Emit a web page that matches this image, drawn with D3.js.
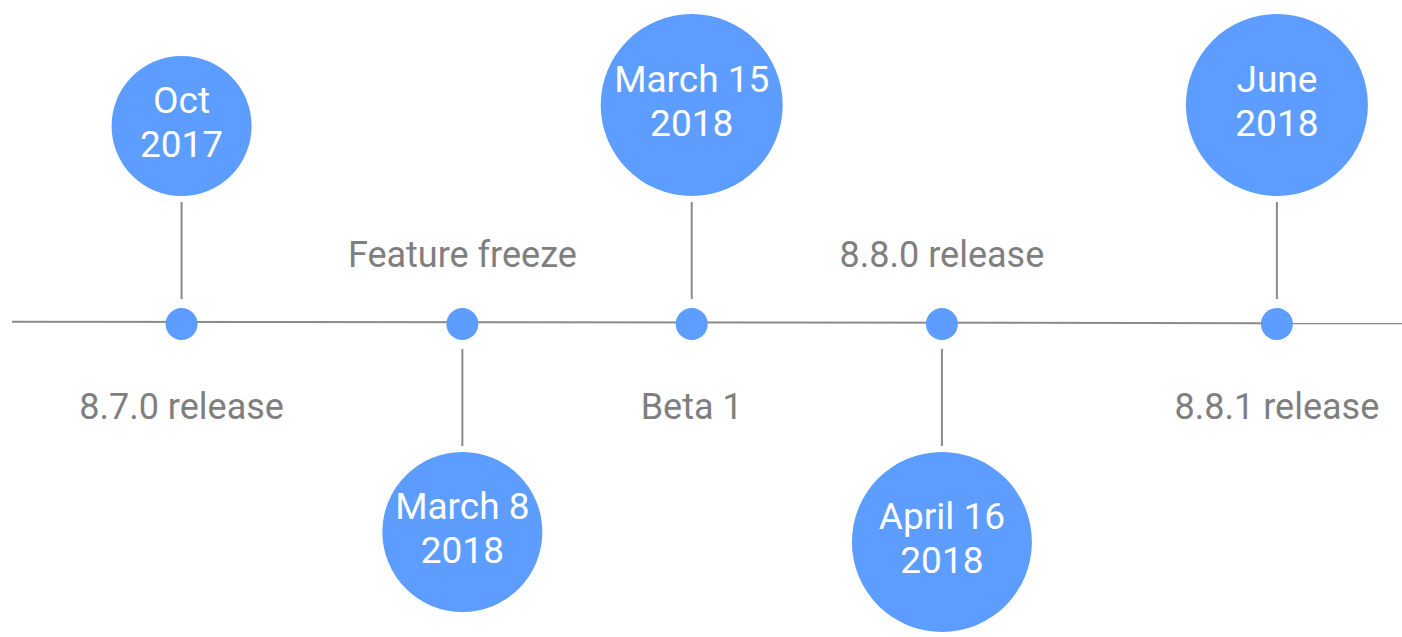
<!DOCTYPE html>
<html>
<head>
<meta charset="utf-8">
<script src="https://cdn.jsdelivr.net/npm/d3@7"></script>
<style>
  body { margin: 0; background: #fff; }
  svg { display: block; }
  .date { font-family: Roboto, sans-serif; font-size: 37px; fill: #fff; text-anchor: middle; }
  .label { font-family: Roboto, sans-serif; font-size: 36px; fill: #7f7f7f; text-anchor: middle; }
</style>
</head>
<body>
<script>
// milestones along the timeline
let events = ["8.7.0 release", "Feature freeze", "Beta 1", "8.8.0 release", "8.8.1 release"];
let dateLine1 = ["Oct", "March 8", "March 15", "April 16", "June"];
let dateLine2 = ["2017", "2018", "2018", "2018", "2018"];
let position = [12.2, 32.4, 48.9, 66.9, 91.0];   // place along the track, 0..100
let side = [-1, 1, -1, 1, -1];                     // -1 = bubble above, 1 = bubble below
let bubbleSize = [70, 80, 91, 90, 91];

let width = 1402, height = 637;
let svg, x, r;
let lineY = 323;

appendSvg("body");
setupScales();
appendTrack();
appendMilestones();

function appendSvg(domElement) {
  svg = d3.select(domElement).append("svg")
    .attr("width", width)
    .attr("height", height);
}

function setupScales() {
  x = d3.scaleLinear().domain([0, 100]).range([12, 1402]);
  r = d3.scaleLinear().domain([0, 100]).range([0, 100]);
}

function appendTrack() {
  svg.append("line")
    .attr("x1", x(0)).attr("x2", x(100))
    .attr("y1", lineY - 1.3).attr("y2", lineY + 0.3)
    .attr("stroke", "#8a8a8a")
    .attr("stroke-width", 2);
}

function appendMilestones() {
  let data = events.map((e, i) => ({
    label: e, l1: dateLine1[i], l2: dateLine2[i],
    pos: position[i], side: side[i], size: bubbleSize[i]
  }));

  let g = svg.selectAll(".milestone")
    .data(data)
    .enter().append("g")
    .attr("class", "milestone")
    .attr("transform", d => `translate(${x(d.pos)}, ${lineY + 1})`);

  // connector between dot and bubble
  g.append("line")
    .attr("x1", 0).attr("x2", 0)
    .attr("y1", d => d.side * 25)
    .attr("y2", d => d.side * 122)
    .attr("stroke", "#8a8a8a")
    .attr("stroke-width", 2);

  g.append("circle")
    .attr("r", 16)
    .attr("fill", "#5c9dff");

  let bubble = g.append("g")
    .attr("transform", d => `translate(0, ${d.side * (128 + r(d.size))})`);

  bubble.append("circle")
    .attr("r", d => r(d.size))
    .attr("fill", "#5c9dff");

  bubble.append("text")
    .attr("class", "date")
    .attr("y", -13)
    .text(d => d.l1);

  bubble.append("text")
    .attr("class", "date")
    .attr("y", 31)
    .text(d => d.l2);

  // event name on the opposite side of the track
  g.append("text")
    .attr("class", "label")
    .attr("y", d => d.side < 0 ? 95 : -57)
    .text(d => d.label);
}
</script>
</body>
</html>
